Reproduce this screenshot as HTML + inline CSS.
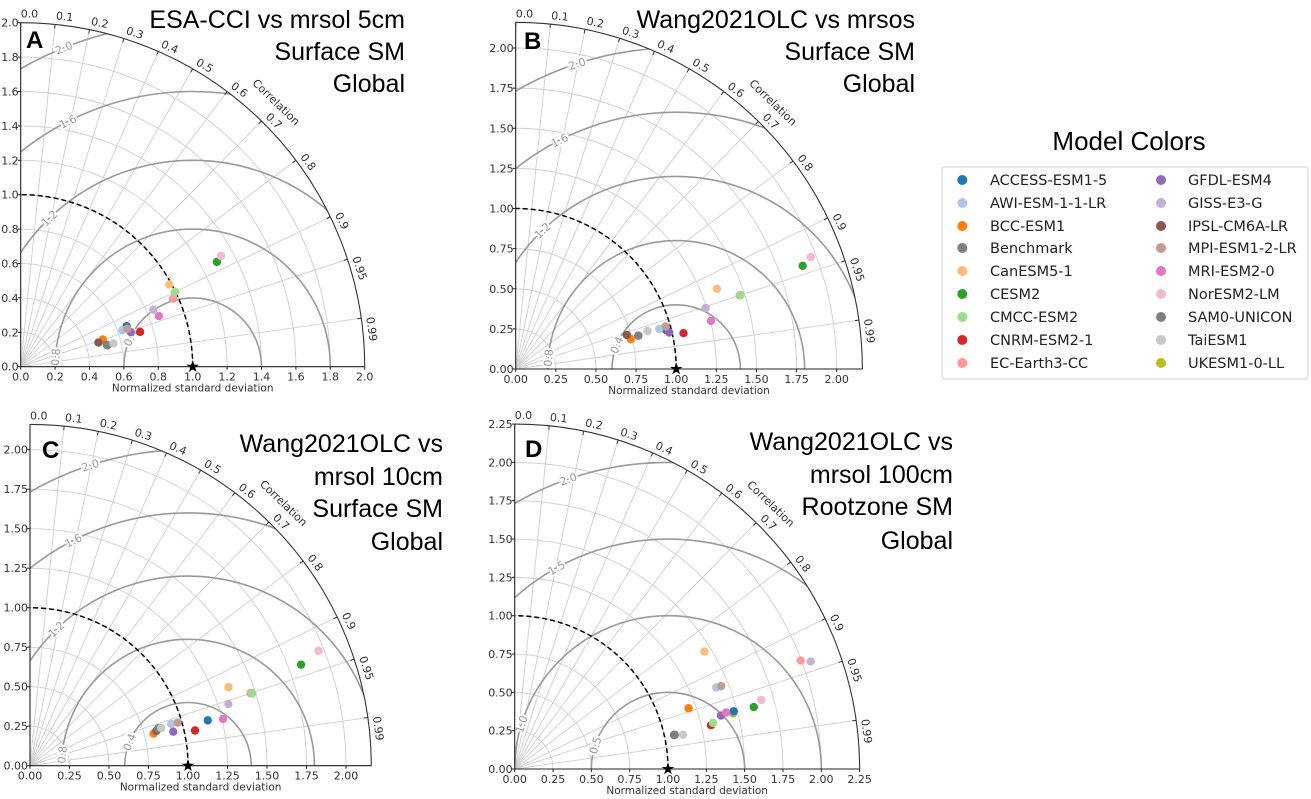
<!DOCTYPE html>
<html><head><meta charset="utf-8"><style>
html,body{margin:0;padding:0;background:#fff;overflow:hidden;}
svg{display:block;}
.t{font-family:"DejaVu Sans","Liberation Sans",sans-serif;}
.h{font-family:"Liberation Sans",sans-serif;}
</style></head><body>
<svg id="fig" width="1311" height="799" viewBox="0 0 1311 799" xmlns="http://www.w3.org/2000/svg">
<defs id="defs"></defs>
<g>
<text class="h" x="1129" y="150" font-size="26" text-anchor="middle">Model Colors</text>
<rect x="942" y="167" width="366" height="212" rx="3" fill="#fff" stroke="#d4d4d4"/>
<g id="legendItems"></g>
</g>
</svg>
<script>
const models=["ACCESS-ESM1-5","AWI-ESM-1-1-LR","BCC-ESM1","Benchmark","CanESM5-1","CESM2","CMCC-ESM2","CNRM-ESM2-1","EC-Earth3-CC","GFDL-ESM4","GISS-E3-G","IPSL-CM6A-LR","MPI-ESM1-2-LR","MRI-ESM2-0","NorESM2-LM","SAM0-UNICON","TaiESM1","UKESM1-0-LL"];
const colors=["#1f77b4","#aec7e8","#ff7f0e","#7f7f7f","#ffbb78","#2ca02c","#98df8a","#d62728","#ff9896","#9467bd","#c5b0d5","#8c564b","#c49c94","#e377c2","#f7b6d2","#7f7f7f","#c7c7c7","#bcbd22"];
// Panel A
const stdA=[0.660,0.628,0.503,0.519,0.988,1.293,0.997,0.723,0.970,0.671,0.839,0.473,0.658,0.856,1.331,0.516,0.556,0.997];
const corrA=[0.934,0.941,0.949,0.971,0.875,0.882,0.900,0.960,0.913,0.954,0.919,0.955,0.942,0.939,0.875,0.969,0.970,0.900];
// Panel B
const stdB=[0.968,0.929,0.741,0.792,1.350,1.900,1.476,1.069,1.469,0.983,1.243,0.724,0.970,1.253,1.966,0.792,0.855,0.968];
const corrB=[0.968,0.963,0.968,0.965,0.929,0.941,0.950,0.978,0.950,0.973,0.952,0.956,0.962,0.971,0.935,0.965,0.961,0.968];
// Panel C
const stdC=[1.161,0.932,0.808,0.848,1.351,1.831,1.479,1.068,1.469,0.932,1.315,0.830,0.973,1.257,1.965,0.843,0.864,1.474];
const corrC=[0.969,0.959,0.968,0.960,0.930,0.937,0.951,0.978,0.950,0.973,0.955,0.964,0.960,0.972,0.929,0.961,0.961,0.950];
// Panel D
const stdD=[1.478,1.418,1.201,1.067,1.456,1.611,1.328,1.312,1.995,1.390,2.054,1.063,1.451,1.428,1.670,1.067,1.120,1.469];
const corrD=[0.967,0.927,0.944,0.978,0.850,0.968,0.974,0.976,0.935,0.968,0.940,0.978,0.928,0.966,0.963,0.978,0.980,0.969];
const corrTicks=[0.0,0.1,0.2,0.3,0.4,0.5,0.6,0.7,0.8,0.9,0.95,0.99];
const rmsLevelsABC=[0.4,0.8,1.2,1.6,2.0];
const rmsLevelsD=[0.5,1.0,1.5,2.0];
const drawOrder=[17,0,1,2,3,4,5,7,8,6,9,10,11,12,13,14,15,16];

const NS="http://www.w3.org/2000/svg";
const fig=document.getElementById('fig');
function mk(tag,attrs,parent){const e=document.createElementNS(NS,tag);for(const k in attrs)e.setAttribute(k,attrs[k]);(parent||fig).appendChild(e);return e;}

const panels=[
 {id:"A",ox:20.7,oy:366.7,unit:172,max:2.0,step:0.2,dec:1,std:stdA,corr:corrA,rms:rmsLevelsABC,phi:[25,4,46,63,68],
  title:["ESA-CCI vs mrsol 5cm","Surface SM","Global"],tx:405,ty:[20,52,84],lx:26,ly:48},
 {id:"B",ox:515.7,oy:369,unit:160.5,max:2.16,step:0.25,dec:2,std:stdB,corr:corrB,rms:rmsLevelsABC,phi:[22,5,46,63,72],
  title:["Wang2021OLC vs mrsos","Surface SM","Global"],tx:915,ty:[20,52,84],lx:524,ly:49},
 {id:"C",ox:30,oy:765.7,unit:158,max:2.16,step:0.25,dec:2,std:stdC,corr:corrC,rms:rmsLevelsABC,phi:[22,5,46,63,72],
  title:["Wang2021OLC vs","mrsol 10cm","Surface SM","Global"],tx:443,ty:[444,477,509,542],lx:42,ly:458},
 {id:"D",ox:514.7,oy:769,unit:153.3,max:2.25,step:0.25,dec:2,std:stdD,corr:corrD,rms:rmsLevelsD,phi:[18,17,61,71],
  title:["Wang2021OLC vs","mrsol 100cm","Rootzone SM","Global"],tx:953,ty:[442,475,507,541],lx:525,ly:457}
];

panels.forEach(p=>{
  const R=p.max*p.unit;
  const px=(s,c)=>p.ox+s*p.unit*c;
  const py=(s,c)=>p.oy-s*p.unit*Math.sqrt(Math.max(0,1-c*c));
  const g=mk('g',{});
  
  
  const defs=document.getElementById('defs');
  const cp=mk('clipPath',{id:'clip'+p.id},defs);
  mk('path',{d:`M${p.ox},${p.oy} L${p.ox+R},${p.oy} A${R},${R} 0 0 0 ${p.ox},${p.oy-R} Z`},cp);
  for(let v=p.step;v<p.max-1e-6;v+=p.step){
    const r=v*p.unit;
    const a=mk('path',{d:`M${p.ox+r},${p.oy} A${r},${r} 0 0 0 ${p.ox},${p.oy-r}`,fill:'none',stroke:'#cfcfcf','stroke-width':0.9},g);
    
    
  }
  corrTicks.forEach(c=>{
    if(c===0)return;
    const l=mk('line',{x1:p.ox,y1:p.oy,x2:px(p.max,c),y2:py(p.max,c),stroke:'#cfcfcf','stroke-width':0.9},g);
    
    
  });
  const rg=mk('g',{'clip-path':`url(#clip${p.id})`},g);
  p.rms.forEach(lv=>{
    const c=mk('circle',{cx:p.ox+p.unit,cy:p.oy,r:lv*p.unit,fill:'none',stroke:'#9a9a9a','stroke-width':1.6},rg);
    
    
  });
  p.rms.forEach((lv,i)=>{
    const ph=p.phi[i]*Math.PI/180;
    const x=p.ox+p.unit*(1-lv*Math.cos(ph)), y=p.oy-p.unit*lv*Math.sin(ph);
    const t=mk('text',{x:x,y:y+4,'font-size':11,fill:'#9a9a9a','text-anchor':'middle',class:'t',
      stroke:'#fff','stroke-width':4,'paint-order':'stroke',transform:`rotate(${-(90-p.phi[i])} ${x} ${y})`},g);
    t.textContent=lv.toFixed(1);
    
    
  });
  const da=mk('path',{d:`M${p.ox+p.unit},${p.oy} A${p.unit},${p.unit} 0 0 0 ${p.ox},${p.oy-p.unit}`,fill:'none',stroke:'#000','stroke-width':1.5,'stroke-dasharray':'5,3'},g);
  
  
  const oa=mk('path',{d:`M${p.ox+R},${p.oy} A${R},${R} 0 0 0 ${p.ox},${p.oy-R}`,fill:'none',stroke:'#333','stroke-width':1.1},g);
  
  
  const xa=mk('line',{x1:p.ox,y1:p.oy,x2:p.ox+R,y2:p.oy,stroke:'#222','stroke-width':1.1},g);
  
  
  const ya=mk('line',{x1:p.ox,y1:p.oy,x2:p.ox,y2:p.oy-R,stroke:'#222','stroke-width':1.1},g);
  
  
  for(let v=0;v<=p.max+1e-6;v+=p.step){
    const x=p.ox+v*p.unit, y=p.oy-v*p.unit;
    mk('line',{x1:x,y1:p.oy,x2:x,y2:p.oy+3,stroke:'#222'},g);
    mk('line',{x1:p.ox-3,y1:y,x2:p.ox,y2:y,stroke:'#222'},g);
    const tx=mk('text',{x:x,y:p.oy+14,'font-size':11,'text-anchor':'middle',fill:'#333',class:'t'},g);
    tx.textContent=v.toFixed(p.dec);
    
    
    const ty=mk('text',{x:p.ox-2,y:y+4,'font-size':11,'text-anchor':'end',fill:'#333',class:'t'},g);
    ty.textContent=v.toFixed(p.dec);
    
    
  }
  const xt=mk('text',{x:p.ox+R/2,y:p.oy+25,'font-size':10.5,'text-anchor':'middle',fill:'#333',class:'t'},g);
  xt.textContent='Normalized standard deviation';
  
  
  corrTicks.forEach(c=>{
    const th=Math.acos(c), deg=th*180/Math.PI;
    const x1=p.ox+R*Math.cos(th), y1=p.oy-R*Math.sin(th);
    mk('line',{x1:x1,y1:y1,x2:p.ox+(R-4)*Math.cos(th),y2:p.oy-(R-4)*Math.sin(th),stroke:'#333'},g);
    const rr=R+8;
    const x=p.ox+rr*Math.cos(th), y=p.oy-rr*Math.sin(th);
    const t=mk('text',{x:x,y:y,'font-size':11,fill:'#333',class:'t','dominant-baseline':'middle',transform:`rotate(${90-deg} ${x} ${y})`},g);
    t.textContent=(c===0.95||c===0.99)?c.toFixed(2):c.toFixed(1);
    
    
  });
  {
    const th=46*Math.PI/180, rr=R+23;
    const x=p.ox+rr*Math.cos(th), y=p.oy-rr*Math.sin(th);
    const t=mk('text',{x:x,y:y,'font-size':11,fill:'#333',class:'t','text-anchor':'middle','dominant-baseline':'middle',transform:`rotate(44 ${x} ${y})`},g);
    t.textContent='Correlation';
    
    
  }
  drawOrder.forEach(i=>{
    const s=p.std[i], c=p.corr[i];
    const d=mk('circle',{cx:px(s,c),cy:py(s,c),r:4.2,fill:colors[i]},g);
    
    
  });
  const sx=p.ox+p.unit, sy=p.oy;
  let pts=[];
  for(let k=0;k<10;k++){const a=-Math.PI/2+k*Math.PI/5, r=k%2?2.6:6.5;pts.push((sx+r*Math.cos(a)).toFixed(2)+','+(sy+r*Math.sin(a)).toFixed(2));}
  const st=mk('polygon',{points:pts.join(' '),fill:'#000'},g);
  
  
  const L=mk('text',{x:p.lx,y:p.ly,'font-size':24,'font-weight':'bold',class:'h',fill:'#000'},g);
  L.textContent=p.id;
  
  
  p.title.forEach((line,i)=>{
    const t=mk('text',{x:p.tx,y:p.ty[i]+8,'font-size':25,'text-anchor':'end',class:'h',fill:'#000'},g);
    t.textContent=line;
    
    
  });
});

const lg=document.getElementById('legendItems');
const rowY=[180,203,226,248,271,294,317,340,363];
models.forEach((m,i)=>{
  const col=i<9?0:1, row=i%9;
  const mx=col?1161:962.3, tx=col?1188:990;
  const c=mk('circle',{cx:mx,cy:rowY[row],r:5,fill:colors[i]},lg);
  
  
  const t=mk('text',{x:tx,y:rowY[row]+5,'font-size':14.5,fill:'#222',class:'t'},lg);
  t.textContent=m;
  
  
});
</script>
</body></html>
